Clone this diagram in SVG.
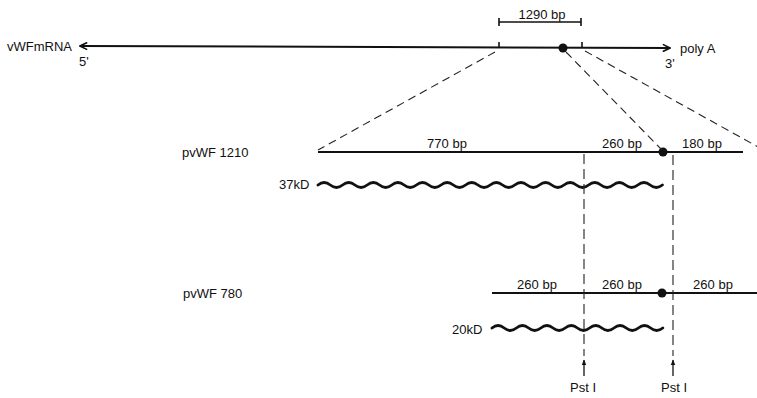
<svg xmlns="http://www.w3.org/2000/svg" width="757" height="398" viewBox="0 0 757 398">
<style>
text{font-family:"Liberation Sans",Arial,sans-serif;font-size:13px;fill:#111}
.mid{text-anchor:middle}
.ln{stroke:#111;stroke-width:2;fill:none}
.tk{stroke:#111;stroke-width:1.6;fill:none}
.dash{stroke:#222;stroke-width:1.1;fill:none;stroke-dasharray:8 5}
.vdash{stroke:#222;stroke-width:1.1;fill:none;stroke-dasharray:10 5}
.wave{stroke:#111;stroke-width:2.8;fill:none;stroke-linecap:round}
.dot{fill:#111}
</style>
<defs>
<marker id="ah" viewBox="0 0 10 10" refX="9" refY="5" markerWidth="9" markerHeight="9" markerUnits="userSpaceOnUse" orient="auto-start-reverse">
<path d="M1,1 L9,5 L1,9" fill="none" stroke="#111" stroke-width="1.8"/>
</marker>
<marker id="sa" viewBox="0 0 10 10" refX="9" refY="5" markerWidth="6" markerHeight="6" markerUnits="userSpaceOnUse" orient="auto">
<path d="M0,1 L10,5 L0,9 Z" fill="#111"/>
</marker>
</defs>
<g id="mrna">
<line class="ln" x1="80" y1="46" x2="670" y2="48" marker-start="url(#ah)" marker-end="url(#ah)"/>
<line class="tk" x1="499" y1="42" x2="499" y2="48"/>
<line class="tk" x1="582" y1="42" x2="582" y2="48"/>
<circle class="dot" cx="563" cy="48" r="4.5"/>
<text x="7" y="51">vWFmRNA</text>
<text x="79" y="66">5'</text>
<text x="680" y="53">poly A</text>
<text x="665" y="68">3'</text>
</g>
<g id="bracket">
<line class="tk" x1="499" y1="22" x2="581" y2="22"/>
<line class="tk" x1="499" y1="18" x2="499" y2="26"/>
<line class="tk" x1="581" y1="18" x2="581" y2="26"/>
<text class="mid" x="542" y="19">1290 bp</text>
</g>
<g id="pvwf1210">
<line class="ln" x1="318" y1="152" x2="743" y2="152"/>
<circle class="dot" cx="663" cy="152" r="4.5"/>
<text x="182" y="157">pvWF 1210</text>
<text class="mid" x="447" y="148">770 bp</text>
<text class="mid" x="622" y="148">260 bp</text>
<text class="mid" x="702" y="148">180 bp</text>
</g>
<g id="protein37">
<text x="279" y="189">37kD</text>
<path class="wave" d="M318,185 q6.15,-5 12.3,0 t12.3,0 t12.3,0 t12.3,0 t12.3,0 t12.3,0 t12.3,0 t12.3,0 t12.3,0 t12.3,0 t12.3,0 t12.3,0 t12.3,0 t12.3,0 t12.3,0 t12.3,0 t12.3,0 t12.3,0 t12.3,0 t12.3,0 t12.3,0 t12.3,0 t12.3,0 t12.3,0 t12.3,0 t12.3,0 t12.3,0 t12.3,0"/>
</g>
<g id="pvwf780">
<line class="ln" x1="492" y1="293" x2="757" y2="293"/>
<circle class="dot" cx="662" cy="293" r="4.5"/>
<text x="183" y="298">pvWF 780</text>
<text class="mid" x="537" y="289">260 bp</text>
<text class="mid" x="622" y="289">260 bp</text>
<text class="mid" x="713" y="289">260 bp</text>
</g>
<g id="protein20">
<text x="452" y="334">20kD</text>
<path class="wave" d="M492,328 q6.1,-5 12.2,0 t12.2,0 t12.2,0 t12.2,0 t12.2,0 t12.2,0 t12.2,0 t12.2,0 t12.2,0 t12.2,0 t12.2,0 t12.2,0 t12.2,0 t12.2,0"/>
</g>
<g id="psti1">
<line class="tk" x1="584" y1="376" x2="584" y2="360" marker-end="url(#sa)" style="stroke-width:1.3"/>
<text x="570" y="392">Pst I</text>
</g>
<g id="psti2">
<line class="tk" x1="673" y1="376" x2="673" y2="360" marker-end="url(#sa)" style="stroke-width:1.3"/>
<text x="661" y="392">Pst I</text>
</g>
<g id="connectors">
<line class="dash" x1="495" y1="52" x2="318" y2="150"/>
<line class="dash" x1="566" y1="52" x2="662" y2="150"/>
<line class="dash" x1="585" y1="51" x2="760" y2="148"/>
<line class="vdash" x1="584" y1="154" x2="584" y2="356"/>
<line class="vdash" x1="673" y1="155" x2="673" y2="356"/>
</g>
</svg>
